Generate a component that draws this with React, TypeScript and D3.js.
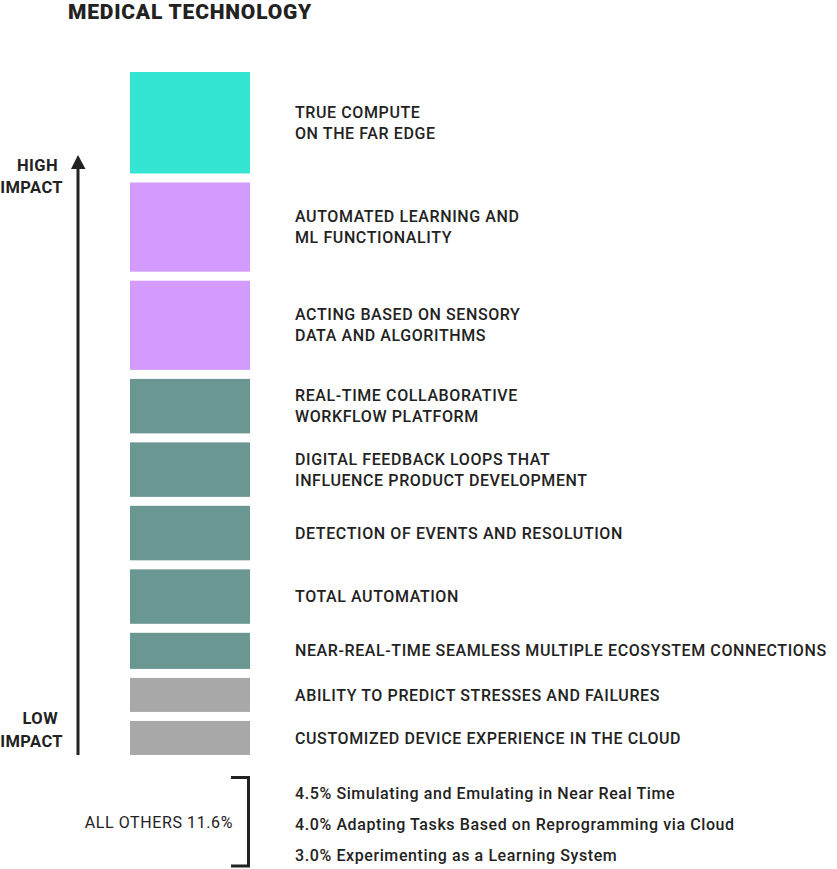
import React from 'react';
import * as d3 from 'd3';

// Impact items, from high (top) to low (bottom), share in %
const labels: string[][] = [
  ['TRUE COMPUTE', 'ON THE FAR EDGE'],
  ['AUTOMATED LEARNING AND', 'ML FUNCTIONALITY'],
  ['ACTING BASED ON SENSORY', 'DATA AND ALGORITHMS'],
  ['REAL-TIME COLLABORATIVE', 'WORKFLOW PLATFORM'],
  ['DIGITAL FEEDBACK LOOPS THAT', 'INFLUENCE PRODUCT DEVELOPMENT'],
  ['DETECTION OF EVENTS AND RESOLUTION'],
  ['TOTAL AUTOMATION'],
  ['NEAR-REAL-TIME SEAMLESS MULTIPLE ECOSYSTEM CONNECTIONS'],
  ['ABILITY TO PREDICT STRESSES AND FAILURES'],
  ['CUSTOMIZED DEVICE EXPERIENCE IN THE CLOUD'],
];
const values = [14.9, 13.1, 13.1, 8.0, 8.0, 8.0, 8.0, 5.3, 5.0, 5.0];
const groups = ['edge', 'ml', 'ml', 'core', 'core', 'core', 'core', 'core', 'base', 'base'];

const others = [
  { value: 4.5, name: 'Simulating and Emulating in Near Real Time' },
  { value: 4.0, name: 'Adapting Tasks Based on Reprogramming via Cloud' },
  { value: 3.0, name: 'Experimenting as a Learning System' },
];
const othersTotal = 11.6;

const color = d3.scaleOrdinal<string, string>()
  .domain(['edge', 'ml', 'core', 'base'])
  .range(['#33e5d2', '#d29bfd', '#6b9793', '#a8a8a8']);

const W = 837;
const H = 869;
const top = 72;
const bottom = 755;
const gap = 9;
const blockX = 130;
const blockW = 120;
const textX = 295;
const font = 'Roboto, "Noto Sans", sans-serif';
const ink = '#222222';

export default function App() {
  const total = d3.sum(values);
  const h = d3.scaleLinear()
    .domain([0, total])
    .range([0, bottom - top - gap * (values.length - 1)]);

  let y = top;
  const blocks = values.map((v, i) => {
    const b = { y, h: h(v), i };
    y += h(v) + gap;
    return b;
  });

  const othersY = d3.scalePoint<number>()
    .domain(d3.range(others.length))
    .range([793, 855]);

  return (
    <>
      <style>{'body{margin:0}'}</style>
      <svg width={W} height={H} style={{ display: 'block', fontFamily: font }}>
        <text x={68} y={19} fontSize={21} fontWeight={900} fill={ink} letterSpacing={0.8}>
          MEDICAL TECHNOLOGY
        </text>

        {/* impact axis */}
        <line x1={78} x2={78} y1={166} y2={755} stroke={ink} strokeWidth={3} />
        <path d="M71,169 L78,155 L85.5,169 Z" fill={ink} />
        <g fontSize={16.5} fontWeight={700} fill={ink} textAnchor="end" letterSpacing={0.4}>
          <text x={58} y={171}>HIGH</text>
          <text x={63} y={193}>IMPACT</text>
          <text x={58} y={724}>LOW</text>
          <text x={63} y={747}>IMPACT</text>
        </g>

        {blocks.map(b => {
          const lines = labels[b.i];
          const cy = b.y + b.h / 2;
          const lh = 21;
          const y0 = cy - ((lines.length - 1) * lh) / 2;
          return (
            <g key={b.i}>
              <rect x={blockX} y={b.y} width={blockW} height={b.h} fill={color(groups[b.i])} />
              <text fontSize={16} fontWeight={500} fill={ink} letterSpacing={0.6}>
                {lines.map((l, j) => (
                  <tspan key={j} x={textX} y={y0 + j * lh} dy="0.35em">{l}</tspan>
                ))}
              </text>
            </g>
          );
        })}

        {/* all others bracket */}
        <path d="M231,777.5 L248.5,777.5 L248.5,866 L231,866" fill="none" stroke={ink} strokeWidth={3} />
        <text x={233} y={822} dy="0.35em" textAnchor="end" fontSize={16} fill={ink} letterSpacing={0.6}>
          {`ALL OTHERS ${othersTotal.toFixed(1)}%`}
        </text>
        {others.map((o, i) => (
          <text key={i} x={textX} y={othersY(i)} dy="0.35em" fontSize={16} fontWeight={500} fill={ink} letterSpacing={0.6}>
            {`${o.value.toFixed(1)}% ${o.name}`}
          </text>
        ))}
      </svg>
    </>
  );
}
